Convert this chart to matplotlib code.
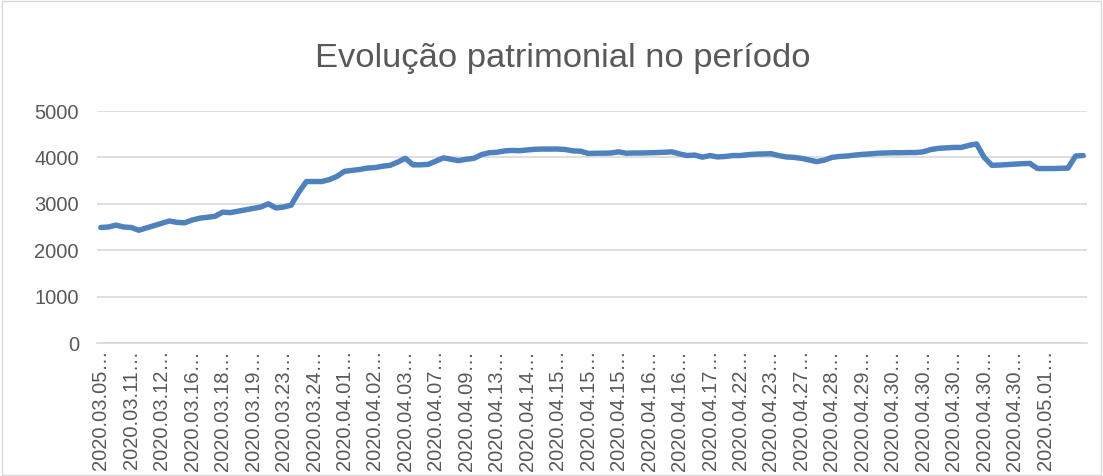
import matplotlib
matplotlib.use("Agg")
import matplotlib.pyplot as plt
from matplotlib.patches import Rectangle

# values, one per trading record
patrimonio = [
    2490, 2500, 2540, 2500, 2490, 2430, 2480, 2530, 2580, 2630,
    2600, 2590, 2650, 2690, 2710, 2730, 2820, 2810, 2840, 2870,
    2900, 2930, 3000, 2910, 2930, 2970, 3250, 3480, 3480, 3480,
    3520, 3590, 3700, 3720, 3740, 3770, 3780, 3810, 3830, 3900,
    3980, 3840, 3840, 3850, 3920, 3990, 3960, 3930, 3960, 3980,
    4060, 4100, 4110, 4140, 4150, 4145, 4160, 4175, 4180, 4180,
    4180, 4170, 4140, 4135, 4085, 4090, 4090, 4095, 4120, 4090,
    4095, 4095, 4100, 4105, 4110, 4120, 4075, 4040, 4050, 4005,
    4040, 4010, 4020, 4040, 4040, 4060, 4070, 4075, 4080, 4040,
    4010, 4000, 3980, 3945, 3910, 3940, 4000, 4020, 4030, 4050,
    4065, 4075, 4090, 4095, 4100, 4100, 4105, 4105, 4120, 4170,
    4195, 4205, 4215, 4215, 4260, 4290, 4000, 3830, 3835, 3845,
    3855, 3865, 3870, 3760, 3760, 3760, 3765, 3770, 4030, 4040,
]

# labels shown under the axis (every 4th record), truncated like in Excel
rotulos = [
    "2020.03.05", "2020.03.11", "2020.03.12", "2020.03.16", "2020.03.18",
    "2020.03.19", "2020.03.23", "2020.03.24", "2020.04.01", "2020.04.02",
    "2020.04.03", "2020.04.07", "2020.04.09", "2020.04.13", "2020.04.14",
    "2020.04.15", "2020.04.15", "2020.04.15", "2020.04.16", "2020.04.16",
    "2020.04.17", "2020.04.22", "2020.04.23", "2020.04.27", "2020.04.28",
    "2020.04.29", "2020.04.30", "2020.04.30", "2020.04.30", "2020.04.30",
    "2020.04.30", "2020.05.01",
]
passo_rotulo = 4

y_ticks = [0, 1000, 2000, 3000, 4000, 5000]

cinza = "#595959"
grade = "#d9d9d9"
azul = "#4f81bd"
fonte = "Liberation Sans"

fig = plt.figure(figsize=(11.03, 4.76), dpi=100)
ax = fig.add_axes([0.0879, 0.2794, 0.8976, 0.4874])

x = list(range(len(patrimonio)))
ax.plot(x, patrimonio, color=azul, linewidth=3.9, solid_joinstyle="round",
        solid_capstyle="round", zorder=3)

ax.set_xlim(-0.5, len(patrimonio) - 0.5)
ax.set_ylim(0, 5000)
ax.set_yticks(y_ticks)
ax.set_yticklabels([str(v) for v in y_ticks], fontsize=14.5, color=cinza,
                   family=fonte)
ax.yaxis.grid(True, color=grade, linewidth=1.2)
ax.set_axisbelow(True)

pos = [i * passo_rotulo for i in range(len(rotulos))]
ax.set_xticks(pos)
ax.set_xticklabels([r + "…" for r in rotulos], rotation=90, fontsize=14.5,
                   color=cinza, family=fonte, va="top", ha="center")
ax.tick_params(axis="both", length=0)
ax.tick_params(axis="y", pad=13)
ax.tick_params(axis="x", pad=5)

for s in ["top", "right", "left"]:
    ax.spines[s].set_visible(False)
ax.spines["bottom"].set_color(grade)
ax.spines["bottom"].set_linewidth(1.2)

fig.text(0.510, 0.878, "Evolução patrimonial no período", ha="center",
         va="center", fontsize=24.8, color=cinza, family=fonte)

fig.patches.append(Rectangle((0.002, 0.002), 0.996, 0.996,
                             transform=fig.transFigure, fill=False,
                             edgecolor=grade, linewidth=1))

fig.savefig("out.png", dpi=100)
